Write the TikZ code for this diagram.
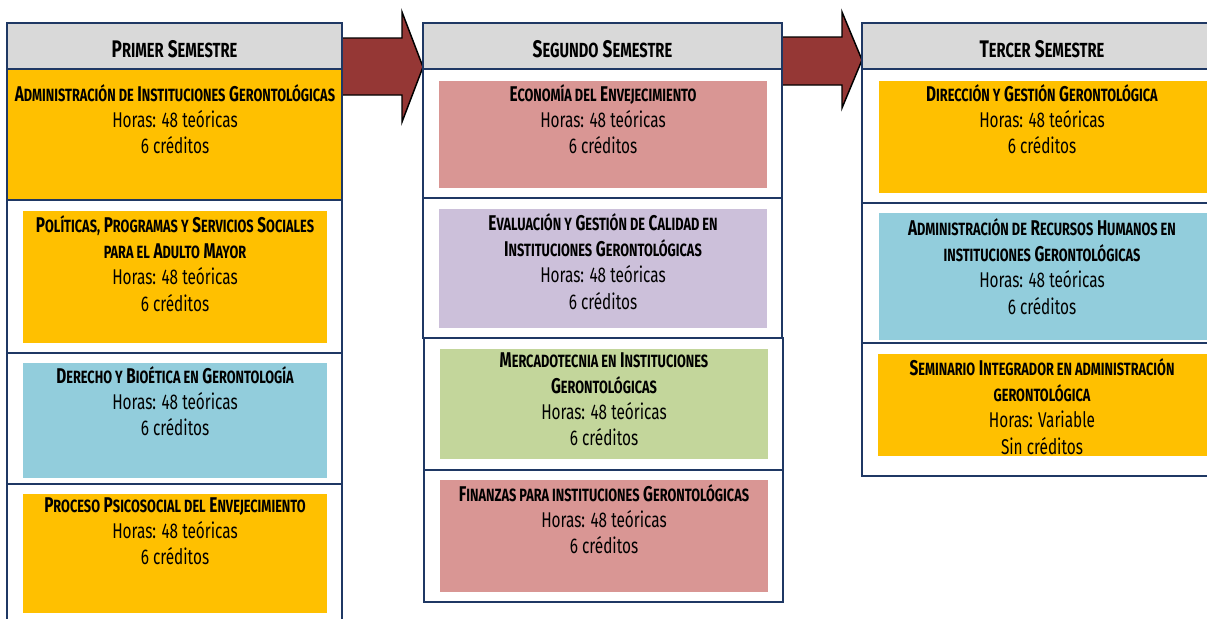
\documentclass[tikz,border=0pt]{standalone}
\usepackage{fontspec}
\setmainfont{Fira Sans}[FakeStretch=0.72]
\usetikzlibrary{fit}
\definecolor{navy}{HTML}{1F3864}
\definecolor{hdr}{HTML}{D9D9D9}
\definecolor{yel}{HTML}{FFC000}
\definecolor{blu}{HTML}{92CDDC}
\definecolor{pnk}{HTML}{D99694}
\definecolor{lav}{HTML}{CCC0DA}
\definecolor{grn}{HTML}{C3D69B}
\definecolor{arr}{HTML}{953735}
\newcommand\ssc[1]{{\fontsize{13.3}{16}\selectfont\MakeUppercase{#1}}}
\newcommand\hsc[1]{{\fontsize{15.3}{18}\selectfont\MakeUppercase{#1}}}
\tikzset{
  cellbox/.style={draw=navy, line width=1.4pt, inner sep=0pt, fill=white},
  hdrbox/.style={cellbox, fill=hdr},
  fullbox/.style={cellbox, fill=yel},
  inbox/.style={inner sep=0pt, draw=none},
  txt/.style={align=center, inner sep=0pt, anchor=north, text=black, yshift=-2.6pt,
    font=\fontsize{16}{19.6}\selectfont, execute at begin node={\rule{0pt}{15pt}}},
  hdrtxt/.style={inner sep=0pt, anchor=base, font=\fontsize{18}{20}\selectfont\bfseries},
  blockarrow/.style={fill=arr, draw=black, line width=1.1pt, line join=miter},
}
\newcommand\rect[6]{\node[#2, fit={(#3,#4) (#5,#6)}] (#1) {};}
\begin{document}
\begin{tikzpicture}[x=0.75pt, y=-0.75pt]
\useasboundingbox (0,0) rectangle (1207,618);
\clip (0,0) rectangle (1207,618);
% block arrows
\draw[blockarrow] (342,38) -- (402,38) -- (402,12) -- (423,67) -- (402,122) -- (402,95) -- (342,95) -- cycle;
\draw[blockarrow] (782,37) -- (842,37) -- (842,12) -- (862,60) -- (842,108) -- (842,85) -- (782,85) -- cycle;
% column 1
\rect{h1}{hdrbox}{7}{23}{342}{69}
\rect{a1}{fullbox}{7}{69}{342}{200}
\rect{a2}{cellbox}{7}{200}{342}{353}
\rect{a3}{cellbox}{7}{353}{342}{484}
\rect{a4}{cellbox}{7}{484}{342}{640}
\rect{b2}{inbox, fill=yel}{23}{211}{327}{343}
\rect{b3}{inbox, fill=blu}{23}{363}{327}{478}
\rect{b4}{inbox, fill=yel}{23}{494}{327}{613}
\node[hdrtxt] (th1) at (174.5,57) {P\hsc{rimer} S\hsc{emestre}};
\node[txt] (t11) at (175,81) {{\bfseries A\ssc{dministración de} I\ssc{nstituciones} G\ssc{erontológicas}}\\Horas: 48 teóricas\\6 créditos};
\node[txt] (t12) at (175,212) {{\bfseries P\ssc{olíticas,} P\ssc{rogramas y} S\ssc{ervicios} S\ssc{ociales}}\\{\bfseries\ssc{para el} A\ssc{dulto} M\ssc{ayor}}\\Horas: 48 teóricas\\6 créditos};
\node[txt] (t13) at (175,363) {{\bfseries D\ssc{erecho y} B\ssc{ioética en} G\ssc{erontología}}\\Horas: 48 teóricas\\6 créditos};
\node[txt] (t14) at (175,494) {{\bfseries P\ssc{roceso} P\ssc{sicosocial del} E\ssc{nvejecimiento}}\\Horas: 48 teóricas\\6 créditos};
% column 2
\rect{h2}{hdrbox}{423}{23}{782}{69}
\rect{c1}{cellbox}{423}{69}{782}{198}
\rect{c2}{cellbox}{423}{198}{782}{338}
\rect{c3}{cellbox}{424}{338}{783}{470}
\rect{c4}{cellbox}{424}{470}{783}{602}
\rect{d1}{inbox, fill=pnk}{439}{81}{767}{188}
\rect{d2}{inbox, fill=lav}{439}{209}{767}{328}
\rect{d3}{inbox, fill=grn}{440}{349}{768}{459}
\rect{d4}{inbox, fill=pnk}{440}{480}{768}{592}
\node[hdrtxt] (th2) at (602.5,57) {S\hsc{egundo} S\hsc{emestre}};
\node[txt] (t21) at (603,81) {{\bfseries E\ssc{conomía del} E\ssc{nvejecimiento}}\\Horas: 48 teóricas\\6 créditos};
\node[txt] (t22) at (603,210) {{\bfseries E\ssc{valuación y} G\ssc{estión de} C\ssc{alidad en}}\\{\bfseries I\ssc{nstituciones} G\ssc{erontológicas}}\\Horas: 48 teóricas\\6 créditos};
\node[txt] (t23) at (604,349) {{\bfseries M\ssc{ercadotecnia en} I\ssc{nstituciones}}\\{\bfseries G\ssc{erontológicas}}\\Horas: 48 teóricas\\6 créditos};
\node[txt] (t24) at (604,481) {{\bfseries F\ssc{inanzas para instituciones} G\ssc{erontológicas}}\\Horas: 48 teóricas\\6 créditos};
% column 3
\rect{h3}{hdrbox}{862}{23}{1230}{69}
\rect{e1}{cellbox}{862}{69}{1230}{203}
\rect{e2}{cellbox}{862}{203}{1230}{343}
\rect{e3}{cellbox}{862}{343}{1230}{476}
\rect{f1}{inbox, fill=yel}{879}{81}{1210}{193}
\rect{f2}{inbox, fill=blu}{879}{213}{1210}{340}
\rect{f3}{inbox, fill=yel}{878}{354}{1210}{456}
\node[hdrtxt] (th3) at (1042,57) {T\hsc{ercer} S\hsc{emestre}};
\node[txt] (t31) at (1042,81) {{\bfseries D\ssc{irección y} G\ssc{estión} G\ssc{erontológica}}\\Horas: 48 teóricas\\6 créditos};
\node[txt] (t32) at (1042,215) {{\bfseries A\ssc{dministración de} R\ssc{ecursos} H\ssc{umanos en}}\\{\bfseries\ssc{instituciones} G\ssc{erontológicas}}\\Horas: 48 teóricas\\6 créditos};
\node[txt] (t33) at (1042,355) {{\bfseries S\ssc{eminario} I\ssc{ntegrador en administración}}\\{\bfseries\ssc{gerontológica}}\\Horas: Variable\\Sin créditos};
\end{tikzpicture}
\end{document}
